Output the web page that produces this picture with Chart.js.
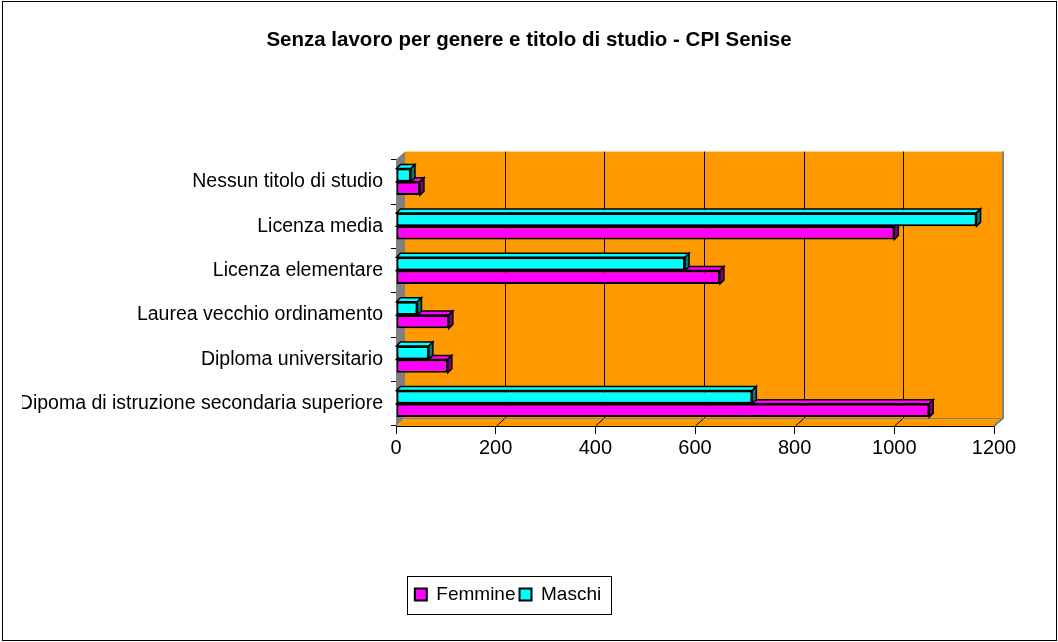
<!DOCTYPE html>
<html>
<head>
<meta charset="utf-8">
<script src="https://cdn.jsdelivr.net/npm/chart.js@4/dist/chart.umd.min.js"></script>
<style>
  html, body { margin: 0; padding: 0; background: #fff; }
  #wrap { width: 1058px; height: 642px; }
</style>
</head>
<body>
<div id="wrap"><canvas id="chart" width="1058" height="642"></canvas></div>
<script>
const categories = [
  "Nessun titolo di studio",
  "Licenza media",
  "Licenza elementare",
  "Laurea vecchio ordinamento",
  "Diploma universitario",
  "Dipoma di istruzione secondaria superiore"
];
const maschi = [30, 1165, 580, 43, 66, 715];
const femmine = [48, 1000, 650, 106, 104, 1070];
const xTicks = [0, 200, 400, 600, 800, 1000, 1200];

const FONT = "'Liberation Sans', Arial, sans-serif";
const DX = 9, DY = 8, D = 4;

// walls, floor, back gridlines and the top/side faces of every bar
const depth3d = {
  id: "depth3d",
  afterLayout(chart) {
    // title is centred on the whole canvas, not on the padded box
    chart.titleBlock.left = 0;
    chart.titleBlock.right = chart.width;
  },
  beforeDatasetsDraw(chart) {
    let ctx = chart.ctx;
    let a = chart.chartArea;
    let x = chart.scales.x;
    ctx.save();

    ctx.fillStyle = "#FF9900";
    ctx.fillRect(a.left + DX, a.top - DY, a.right - a.left, a.bottom - a.top);
    ctx.beginPath();
    ctx.moveTo(a.left, a.bottom);
    ctx.lineTo(a.left + DX, a.bottom - DY);
    ctx.lineTo(a.right + DX, a.bottom - DY);
    ctx.lineTo(a.right, a.bottom);
    ctx.closePath();
    ctx.fill();

    ctx.fillStyle = "#808080";
    ctx.beginPath();
    ctx.moveTo(a.left, a.top);
    ctx.lineTo(a.left + DX, a.top - DY);
    ctx.lineTo(a.left + DX, a.bottom - DY);
    ctx.lineTo(a.left, a.bottom);
    ctx.closePath();
    ctx.fill();

    ctx.strokeStyle = "#000";
    ctx.lineWidth = 1;
    x.ticks.forEach((t) => {
      let px = Math.round(x.getPixelForValue(t.value)) + 0.5;
      if (t.value > 0 && t.value < 1200) {
        ctx.beginPath();
        ctx.moveTo(px + DX, a.top - DY);
        ctx.lineTo(px + DX, a.bottom - DY);
        ctx.stroke();
      }
      if (t.value > 0) {
        ctx.beginPath();
        ctx.moveTo(px + DX, a.bottom - DY);
        ctx.lineTo(px, a.bottom);
        ctx.stroke();
      }
    });

    ctx.strokeStyle = "#808080";
    ctx.lineWidth = 2;
    ctx.beginPath();
    ctx.moveTo(a.right + DX, a.top - DY);
    ctx.lineTo(a.right + DX, a.bottom - DY);
    ctx.lineTo(a.right, a.bottom);
    ctx.stroke();
    ctx.lineWidth = 1;
    ctx.beginPath();
    ctx.moveTo(a.left + DX, a.bottom - DY + 0.5);
    ctx.lineTo(a.right + DX, a.bottom - DY + 0.5);
    ctx.stroke();

    // faces: lower bars first so the upper bar hides them
    for (let i = chart.data.datasets.length - 1; i >= 0; i--) {
      let ds = chart.data.datasets[i];
      chart.getDatasetMeta(i).data.forEach((bar) => {
        let top = bar.y - bar.height / 2;
        let bot = bar.y + bar.height / 2;
        ctx.strokeStyle = "#000";
        ctx.lineWidth = 1.5;
        ctx.fillStyle = ds.backgroundColor;
        ctx.beginPath();
        ctx.moveTo(bar.base, top);
        ctx.lineTo(bar.base + D, top - D);
        ctx.lineTo(bar.x + D, top - D);
        ctx.lineTo(bar.x, top);
        ctx.closePath();
        ctx.fill();
        ctx.stroke();
        ctx.fillStyle = ds.sideColor;
        ctx.beginPath();
        ctx.moveTo(bar.x, top);
        ctx.lineTo(bar.x + D, top - D);
        ctx.lineTo(bar.x + D, bot - D);
        ctx.lineTo(bar.x, bot);
        ctx.closePath();
        ctx.fill();
        ctx.stroke();
      });
    }
    ctx.restore();
  },
  afterDraw(chart) {
    let ctx = chart.ctx;
    ctx.save();
    ctx.strokeStyle = "#000";
    ctx.lineWidth = 1;
    let hb = chart.legend.legendHitBoxes;
    if (hb && hb.length) {
      let l = Math.min(...hb.map((h) => h.left)) - 8;
      let r = Math.max(...hb.map((h) => h.left + h.width)) + 10;
      let cy = hb[0].top + hb[0].height / 2;
      ctx.strokeRect(Math.round(l) + 0.5, Math.round(cy - 19) + 0.5, Math.round(r - l), 38);
    }
    ctx.strokeRect(2.5, 1.5, chart.width - 4, chart.height - 3);
    ctx.restore();
  }
};

new Chart(document.getElementById("chart"), {
  type: "bar",
  data: {
    labels: categories,
    datasets: [
      {
        label: "Maschi",
        data: maschi,
        backgroundColor: "#00FFFF",
        sideColor: "#008080",
        borderColor: "#000",
        borderWidth: 2,
        borderSkipped: false
      },
      {
        label: "Femmine",
        data: femmine,
        backgroundColor: "#FF00FF",
        sideColor: "#800080",
        borderColor: "#000",
        borderWidth: 2,
        borderSkipped: false
      }
    ]
  },
  options: {
    indexAxis: "y",
    responsive: false,
    animation: false,
    categoryPercentage: 0.6,
    barPercentage: 1.0,
    layout: { padding: { left: 22, right: 64, top: 0, bottom: 28 } },
    plugins: {
      title: {
        display: true,
        text: "Senza lavoro per genere e titolo di studio - CPI Senise",
        color: "#000",
        font: { family: FONT, size: 20.5, weight: "bold" },
        padding: { top: 28, bottom: 107 }
      },
      legend: {
        position: "bottom",
        reverse: true,
        labels: {
          color: "#000",
          font: { family: FONT, size: 19 },
          boxWidth: 12,
          boxHeight: 12,
          padding: 4
        }
      },
      tooltip: { enabled: false }
    },
    scales: {
      x: {
        min: 0,
        max: 1200,
        afterBuildTicks: (scale) => {
          scale.ticks = xTicks.map((v) => ({ value: v }));
        },
        afterFit: (scale) => {
          scale.height = 155;
        },
        ticks: {
          color: "#000",
          font: { family: FONT, size: 20 },
          padding: 2,
          callback: (v) => String(v)
        },
        grid: { drawOnChartArea: false, tickLength: 8, color: "#000" },
        border: { color: "#000" }
      },
      y: {
        afterFit: (scale) => {
          scale.width = 374;
        },
        ticks: { color: "#000", font: { family: FONT, size: 19.5 }, padding: 8 },
        grid: { drawOnChartArea: false, offset: true, tickLength: 5, color: "#000" },
        border: { color: "#000" }
      }
    }
  },
  plugins: [depth3d]
});
</script>
</body>
</html>
